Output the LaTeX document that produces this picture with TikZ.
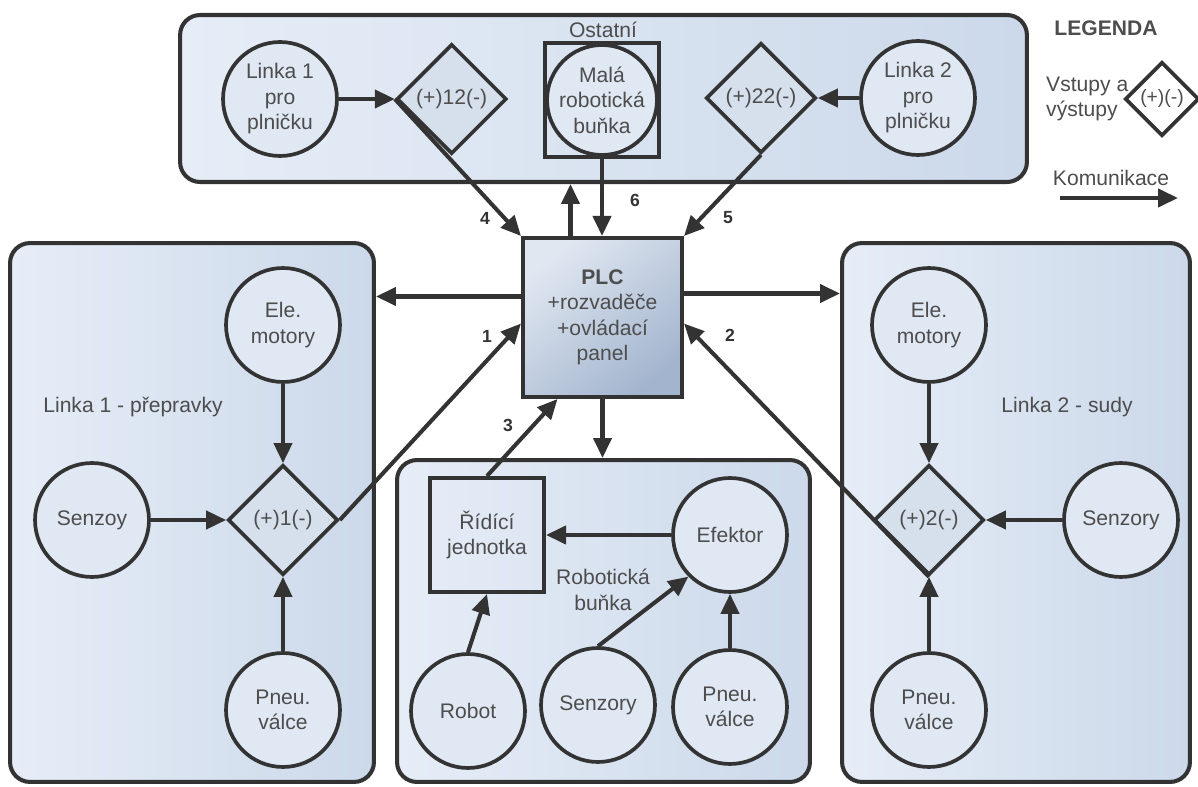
\documentclass[tikz,border=0pt]{standalone}
\usepackage{fontspec}
\setmainfont{Liberation Sans}
\usetikzlibrary{shapes.geometric,arrows.meta,calc,positioning}

\definecolor{linec}{RGB}{51,51,51}
\definecolor{textc}{RGB}{77,77,77}
\definecolor{boxlight}{RGB}{230,237,247}
\definecolor{boxdark}{RGB}{204,217,234}
\definecolor{circfill}{RGB}{224,232,244}
\definecolor{diamfill}{RGB}{214,224,237}
\definecolor{plclight}{RGB}{224,231,241}
\definecolor{plcdark}{RGB}{163,181,206}

\tikzset{
  group/.style = {draw=linec, line width=2.3pt, rounded corners=0.4cm,
                  left color=boxlight, right color=boxdark, inner sep=0pt},
  circ/.style  = {draw=linec, line width=2.1pt, circle, fill=circfill,
                  minimum size=2.28cm, inner sep=0pt, align=center, text=textc},
  io/.style    = {draw=linec, line width=2.1pt, diamond, aspect=1, fill=diamfill,
                  minimum width=2.2cm, minimum height=2.2cm, inner sep=0pt, text=textc},
  unit/.style  = {draw=linec, line width=2.3pt, rectangle, align=center,
                  text=textc, inner sep=0pt},
  lbl/.style   = {text=textc, align=center},
  num/.style   = {font=\bfseries, text=linec},
  comm/.style  = {draw=linec, line width=2.3pt, -{Triangle[length=0.4cm,width=0.36cm]}}
}

\begin{document}
\begin{tikzpicture}[x=0.02cm, y=-0.02cm, font=\fontsize{12}{14.5}\selectfont]
\useasboundingbox (0,0) rectangle (1198,787);
\fill[white] (0,0) rectangle (1198,787);

% the groups (drawn first, everything else sits on them)
\node[group, minimum width=16.94cm, minimum height=3.34cm] (ostatni) at (603.5,98.5) {};
\node[group, minimum width=7.28cm, minimum height=10.78cm] (linka1) at (192,512.5) {};
\node[group, minimum width=8.26cm, minimum height=6.44cm] (bunka) at (603.5,621) {};
\node[group, minimum width=6.96cm, minimum height=10.78cm] (linka2) at (1016,512.5) {};

% top group: Ostatni
\node[lbl] (ostlbl) at (603,30) {Ostatní};
\node[circ] (plnic1) at (280,99) {Linka 1\\pro\\plničku};
\node[io, right=1.12cm of plnic1] (io12) {(+)12(-)};
\node[unit, minimum size=2.28cm] (malabox) at (602,100) {};
\node[circ, minimum size=2.2cm] (mala) at (malabox) {Malá\\robotická\\buňka};
\node[io] (io22) at (761,98) {(+)22(-)};
\node[circ] (plnic2) at (918,98) {Linka 2\\pro\\plničku};

% the PLC in the middle
\node[unit, minimum size=3.18cm, top color=plclight, bottom color=plcdark,
      shading angle=40] (plc) at (602.5,317.5)
      {\textbf{PLC}\\+rozvaděče\\+ovládací\\panel};

% left group: Linka 1
\node[lbl] (linka1lbl) at (133,407) {Linka 1 - přepravky};
\node[circ] (ele1) at (283,325) {Ele.\\motory};
\node[io] (io1) at (283,520) {(+)1(-)};
\node[circ] (senz1) at (92,520) {Senzoy};
\node[circ] (pneu1) at (283,710) {Pneu.\\válce};

% right group: Linka 2
\node[lbl] (linka2lbl) at (1067,407) {Linka 2 - sudy};
\node[circ] (ele2) at (929,325) {Ele.\\motory};
\node[io] (io2) at (929,520) {(+)2(-)};
\node[circ] (senz2) at (1121,520) {Senzory};
\node[circ] (pneu2) at (929,710) {Pneu.\\válce};

% bottom group: Roboticka bunka
\node[unit, minimum size=2.28cm] (ridici) at (487,535) {Řídící\\jednotka};
\node[lbl] (bunkalbl) at (603,590) {Robotická\\buňka};
\node[circ] (efektor) at (730,535) {Efektor};
\node[circ] (robot) at (468,711) {Robot};
\node[circ] (senz3) at (598,705) {Senzory};
\node[circ] (pneu3) at (730,707) {Pneu.\\válce};

% legend
\node[lbl, font=\fontsize{12}{14.5}\bfseries] (legenda) at (1106,28) {LEGENDA};
\node[lbl, align=left, anchor=west] (vstupy) at (1040,99) {Vstupy a\\výstupy};
\node[io, fill=white, minimum width=1.48cm, minimum height=1.48cm,
      font=\fontsize{11}{13}\selectfont] (ioleg) at (1162,99) {(+)(-)};
\node[lbl] (komlbl) at (1111,178) {Komunikace};
\coordinate (kom1) at (1060,198);
\coordinate (kom2) at (1178,198);
\draw[comm] (kom1) -- (kom2);

% communication inside the groups
\draw[comm] (plnic1) -- (io12);
\draw[comm] (plnic2) -- (io22);
\foreach \n in {1,2} {
  \draw[comm] (ele\n) -- (io\n);
  \draw[comm] (pneu\n) -- (io\n);
  \draw[comm] (senz\n) -- (io\n);
}
\draw[comm] (efektor) -- (ridici);
\draw[comm] (robot.north) -- (ridici.south);
\draw[comm] (senz3.north) -- (efektor.225);
\draw[comm] (pneu3) -- (efektor);

% communication with the PLC
\coordinate (upfoot) at ($(plc.north)+(-32,0)$);
\coordinate (plcw) at ($(plc.west)+(0,-21)$);
\coordinate (plce) at ($(plc.east)+(0,-24)$);
\draw[comm] (upfoot) -- (upfoot |- ostatni.south);
\draw[comm] (malabox.south) -- (malabox.south |- plc.north);
\draw[comm] (io12.west) -- (plc.north west);
\draw[comm] (io22.south) -- (plc.north east);
\draw[comm] (plcw) -- (plcw -| linka1.east);
\draw[comm] (plce) -- (plce -| linka2.west);
\draw[comm] (io1.east) -- ($(plc.west)+(0,6)$);
\draw[comm] (io2.south) -- ($(plc.east)+(0,6)$);
\draw[comm] (ridici.north) -- ($(plc.south)+(-45,0)$);
\draw[comm] (plc.south) -- (plc.south |- bunka.north);

% numbers of the links
\node[num] (n1) at (487,336) {1};
\node[num] (n2) at (730,335) {2};
\node[num] (n3) at (508,425) {3};
\node[num] (n4) at (485,218) {4};
\node[num] (n5) at (728,218) {5};
\node[num] (n6) at (635,200) {6};
\end{tikzpicture}
\end{document}
